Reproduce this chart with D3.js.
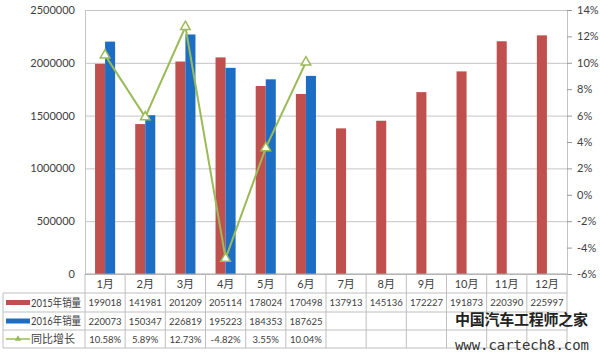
<!DOCTYPE html>
<html><head><meta charset="utf-8">
<script src="https://cdn.jsdelivr.net/npm/d3@7"></script>
<style>
body{margin:0;background:#fff;}
text{font-family:"Lato","Noto Sans CJK SC",sans-serif;}
</style></head>
<body><svg id="c" width="600" height="354"></svg>
<script>
const months = ["1月","2月","3月","4月","5月","6月","7月","8月","9月","10月","11月","12月"];
const seriesNames = ["2015年销量","2016年销量","同比增长"];
const sales2015 = [1990180,1419810,2012090,2051140,1780240,1704980,1379130,1451360,1722270,1918730,2203900,2259970];
const sales2016 = [2200730,1503470,2268190,1952230,1843530,1876250];
const growth = [10.58,5.89,12.73,-4.82,3.55,10.04];
const table2015 = ["199018","141981","201209","205114","178024","170498","137913","145136","172227","191873","220390","225997"];
const table2016 = ["220073","150347","226819","195223","184353","187625"];
const tableGrowth = ["10.58%","5.89%","12.73%","-4.82%","3.55%","10.04%"];
const leftTicks = [0,500000,1000000,1500000,2000000,2500000];
const rightTicks = [-6,-4,-2,0,2,4,6,8,10,12,14];

const svg = d3.select("#c");
const L=85, R=567, T=10, B=274;
const red="#C0504D", blue="#1C6EC4", green="#9BBB59", grid="#c4c4c4", txt="#404040";

const x = d3.scaleBand().domain(months).range([L,R]).paddingInner(0.5).paddingOuter(0.25);
const step = x.step();
const x1 = d3.scaleBand().domain(["2015","2016"]).range([0,x.bandwidth()]);
const yL = d3.scaleLinear().domain([0,2500000]).range([B,T]);
const yR = d3.scaleLinear().domain([-6,14]).range([B,T]);

// gridlines
svg.append("g").attr("transform",`translate(${L},0)`)
  .call(d3.axisLeft(yL).tickValues(leftTicks).tickSize(-(R-L)).tickFormat(""))
  .call(g=>{g.select(".domain").remove();g.selectAll("line").attr("stroke",grid);});

// left axis labels
svg.append("g").attr("transform",`translate(${L},0)`)
  .call(d3.axisLeft(yL).tickValues(leftTicks).tickSize(0).tickPadding(10).tickFormat(d3.format("d")))
  .call(g=>{g.select(".domain").attr("stroke",grid);g.selectAll("text").attr("fill",txt).style("font-size","11px");});

// right axis
svg.append("g").attr("transform",`translate(${R},0)`)
  .call(d3.axisRight(yR).tickValues(rightTicks).tickSize(5).tickPadding(5).tickFormat(d=>`${d}%`))
  .call(g=>{g.select(".domain").attr("stroke",grid);g.selectAll("line").attr("stroke","#999");g.selectAll("text").attr("fill",txt).style("font-size","11px");});

// bars
svg.append("g").selectAll("rect").data(sales2015).join("rect")
  .attr("x",(d,i)=>x(months[i])+x1("2015")).attr("width",x1.bandwidth())
  .attr("y",d=>yL(d)).attr("height",d=>B-yL(d)).attr("fill",red);
svg.append("g").selectAll("rect").data(sales2016).join("rect")
  .attr("x",(d,i)=>x(months[i])+x1("2016")).attr("width",x1.bandwidth())
  .attr("y",d=>yL(d)).attr("height",d=>B-yL(d)).attr("fill",blue);

// growth line
const cx = (i)=>x(months[i])+x.bandwidth()/2;
svg.append("path").datum(growth)
  .attr("d",d3.line().x((d,i)=>cx(i)).y(d=>yR(d)))
  .attr("fill","none").attr("stroke",green).attr("stroke-width",2);
const tri = d3.symbol().type(d3.symbolTriangle).size(40);
svg.append("g").selectAll("path").data(growth).join("path")
  .attr("d",tri).attr("transform",(d,i)=>`translate(${cx(i)},${yR(d)})`)
  .attr("fill","#fff").attr("stroke",green).attr("stroke-width",1.5);

// data table
const rowY = [B,293,312,330,348];
const tl = svg.append("g").attr("stroke","#bfbfbf").attr("stroke-width",1);
tl.append("line").attr("x1",L).attr("x2",R).attr("y1",B).attr("y2",B).attr("stroke","#a6a6a6");
rowY.slice(1).forEach(y=>tl.append("line").attr("x1",3).attr("x2",R).attr("y1",y).attr("y2",y));
tl.append("line").attr("x1",3).attr("x2",3).attr("y1",rowY[1]).attr("y2",rowY[4]);
const bounds = months.map((m,i)=>L+i*step).concat([R]);
tl.selectAll(".vb").data(bounds).join("line").attr("class","vb")
  .attr("x1",d=>d).attr("x2",d=>d).attr("y1",B).attr("y2",rowY[4]);

const colCenter = (i)=>L+step*(i+0.5);
svg.append("g").selectAll("text").data(months).join("text")
  .attr("x",(d,i)=>colCenter(i)).attr("y",(rowY[0]+rowY[1])/2+4).attr("text-anchor","middle")
  .attr("fill",txt).style("font-size","11px").text(d=>d);
[table2015,table2016,tableGrowth].forEach((arr,r)=>{
  svg.append("g").selectAll("text").data(arr).join("text")
    .attr("x",(d,i)=>colCenter(i)).attr("y",(rowY[r+1]+rowY[r+2])/2+3.5).attr("text-anchor","middle")
    .attr("fill",txt).style("font-size","9.5px").text(d=>d);
});

// legend keys in table
const keyColors=[red,blue,green];
seriesNames.forEach((n,r)=>{
  const cy=(rowY[r+1]+rowY[r+2])/2;
  if(r<2){
    svg.append("rect").attr("x",6).attr("y",cy-2.5).attr("width",24).attr("height",5).attr("fill",keyColors[r]);
  } else {
    svg.append("line").attr("x1",6).attr("x2",30).attr("y1",cy).attr("y2",cy).attr("stroke",green).attr("stroke-width",1.5);
    svg.append("path").attr("d",d3.symbol().type(d3.symbolTriangle).size(18)).attr("transform",`translate(18,${cy})`).attr("fill",green);
  }
  const t = svg.append("text").attr("x",31).attr("y",cy+4).attr("fill",txt).style("font-size","11px").text(n);
  if(r<2) t.attr("textLength",50).attr("lengthAdjust","spacingAndGlyphs");
});

// watermark
svg.append("text").attr("x",455).attr("y",325).attr("fill","#222")
  .style("font-size","15px").style("font-family","'Noto Sans CJK SC'").style("font-weight","bold").attr("textLength",133).text("中国汽车工程师之家");
svg.append("text").attr("x",455).attr("y",350).attr("fill","#333")
  .style("font-size","14px").style("font-family","'DejaVu Sans Mono'").attr("textLength",134).text("www.cartech8.com");
</script></body></html>
